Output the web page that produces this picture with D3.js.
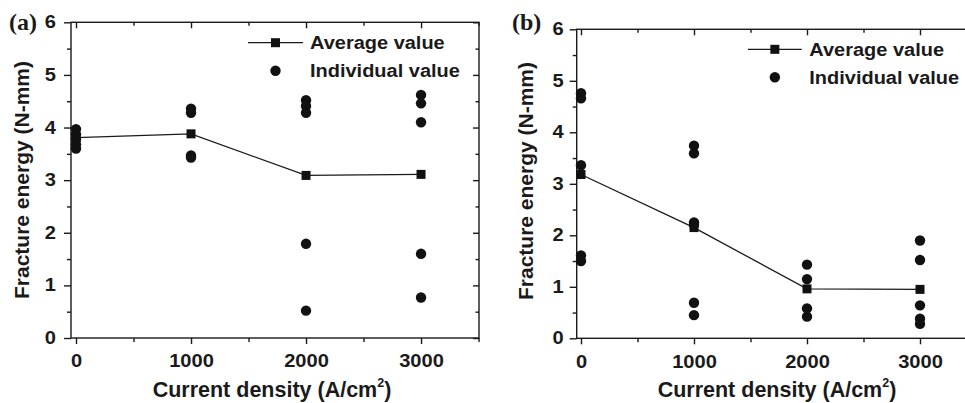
<!DOCTYPE html>
<html>
<head>
<meta charset="utf-8">
<script src="https://cdn.jsdelivr.net/npm/d3@7"></script>
<style>
  html, body { margin: 0; padding: 0; background: #fff; }
  svg { display: block; }
  text { font-family: "Liberation Sans", Arial, Helvetica, sans-serif; font-weight: bold; fill: #1a1a1a; }
</style>
</head>
<body>
<div id="chart"></div>
<script>
// ---------------- data ----------------
const currentDensity = [0, 1000, 2000, 3000];
const xTickLabels = ["0", "1000", "2000", "3000"];
const yTickLabels = ["0", "1", "2", "3", "4", "5", "6"];
const xTitle = "Current density (A/cm";
const yTitle = "Fracture energy (N-mm)";
const legendLabels = ["Average value", "Individual value"];

// panel (a)
const avgA = [3.81, 3.88, 3.09, 3.11];
const indivA0 = [3.97, 3.87, 3.78, 3.68, 3.60];
const indivA1000 = [4.36, 4.28, 3.47, 3.43];
const indivA2000 = [4.52, 4.41, 4.28, 1.79, 0.52];
const indivA3000 = [4.62, 4.46, 4.10, 1.60, 0.77];

// panel (b)
const avgB = [3.18, 2.15, 0.96, 0.95];
const indivB0 = [4.76, 4.66, 3.36, 1.61, 1.50];
const indivB1000 = [3.74, 3.59, 2.25, 2.20, 0.69, 0.45];
const indivB2000 = [1.43, 1.15, 0.58, 0.42];
const indivB3000 = [1.90, 1.52, 0.64, 0.38, 0.28];

// ---------------- drawing ----------------
const W = 965, H = 403;
const svg = d3.select("#chart").append("svg").attr("width", W).attr("height", H);
const TICK_FS = 17.5, STRETCH = 1.15;

function drawPanel(cfg) {
  const g = svg.append("g");
  const x = d3.scaleLinear().domain(cfg.xDomain).range([cfg.left, cfg.right]);
  const y = d3.scaleLinear().domain([0, 6]).range([cfg.bottom, cfg.top]);

  const majorX = currentDensity;
  const minorX = [500, 1500, 2500, 3500];
  const majorY = d3.range(0, 7, 1);
  const minorY = d3.range(0.5, 6, 1);
  const sw = 1.4;

  // bottom axis
  const xb = g.append("g").attr("transform", `translate(0,${cfg.bottom})`)
    .call(d3.axisBottom(x).tickValues(majorX).tickSize(6).tickPadding(11)
      .tickFormat((d, i) => xTickLabels[i]));
  g.append("g").attr("transform", `translate(0,${cfg.bottom})`)
    .call(d3.axisBottom(x).tickValues(minorX).tickSize(4).tickFormat(""));
  // top axis (inward ticks)
  g.append("g").attr("transform", `translate(0,${cfg.top})`)
    .call(d3.axisBottom(x).tickValues(majorX).tickSize(6).tickFormat(""));
  g.append("g").attr("transform", `translate(0,${cfg.top})`)
    .call(d3.axisBottom(x).tickValues(minorX).tickSize(3.5).tickFormat(""));
  // left axis
  const yl = g.append("g").attr("transform", `translate(${cfg.left},0)`)
    .call(d3.axisLeft(y).tickValues(majorY).tickSize(7).tickPadding(cfg.yPad)
      .tickFormat((d, i) => yTickLabels[i]));
  g.append("g").attr("transform", `translate(${cfg.left},0)`)
    .call(d3.axisLeft(y).tickValues(minorY).tickSize(4).tickFormat(""));
  // right axis (inward ticks)
  g.append("g").attr("transform", `translate(${cfg.right},0)`)
    .call(d3.axisLeft(y).tickValues(majorY).tickSize(6).tickFormat(""));
  g.append("g").attr("transform", `translate(${cfg.right},0)`)
    .call(d3.axisLeft(y).tickValues(minorY).tickSize(3.5).tickFormat(""));

  g.selectAll(".domain").remove();
  g.selectAll(".tick line").attr("stroke", "#1a1a1a").attr("stroke-width", sw);
  g.selectAll(".tick text").attr("fill", "#1a1a1a")
    .style("font-size", TICK_FS + "px")
    .style("font-family", '"Liberation Sans", Arial, sans-serif').style("font-weight", "bold");
  // horizontally widened tick labels (as in the reference)
  xb.selectAll(".tick text").attr("transform", `scale(${STRETCH},1)`);
  yl.selectAll(".tick text").each(function () {
    const t = d3.select(this);
    t.attr("x", +t.attr("x") / STRETCH).attr("transform", `scale(${STRETCH},1)`);
  });

  // frame
  g.append("rect").attr("x", cfg.left).attr("y", cfg.top)
    .attr("width", cfg.right - cfg.left).attr("height", cfg.bottom - cfg.top)
    .attr("fill", "none").attr("stroke", "#1a1a1a").attr("stroke-width", sw);

  // individual points
  const pts = [];
  cfg.indiv.forEach((arr, i) => arr.forEach(v => pts.push([currentDensity[i], v])));
  g.selectAll("circle.ind").data(pts).enter().append("circle")
    .attr("cx", d => x(d[0])).attr("cy", d => y(d[1])).attr("r", 5.2)
    .attr("fill", "#111");

  // average line
  const line = d3.line().x((d, i) => x(currentDensity[i])).y(d => y(d));
  g.append("path").datum(cfg.avg).attr("d", line)
    .attr("fill", "none").attr("stroke", "#1a1a1a").attr("stroke-width", 1.3);
  const s = 9;
  g.selectAll("rect.avg").data(cfg.avg).enter().append("rect")
    .attr("x", (d, i) => x(currentDensity[i]) - s / 2).attr("y", d => y(d) - s / 2)
    .attr("width", s).attr("height", s).attr("fill", "#111");

  // legend
  const L = cfg.legend;
  g.append("line").attr("x1", L.x1).attr("x2", L.x2).attr("y1", L.y1).attr("y2", L.y1)
    .attr("stroke", "#1a1a1a").attr("stroke-width", 1.3);
  g.append("rect").attr("x", (L.x1 + L.x2) / 2 - s / 2).attr("y", L.y1 - s / 2)
    .attr("width", s).attr("height", s).attr("fill", "#111");
  g.append("circle").attr("cx", (L.x1 + L.x2) / 2).attr("cy", L.y2).attr("r", 5.2).attr("fill", "#111");
  const LS = 1.08;
  [L.y1, L.y2].forEach((yy, i) => {
    g.append("text")
      .attr("transform", `translate(${L.tx},${yy + 6.5}) scale(${LS},1)`)
      .style("font-size", "18.5px").text(legendLabels[i]);
  });

  // axis titles
  const xt = g.append("text").attr("x", cfg.xTitleX).attr("y", 396.5)
    .attr("text-anchor", "middle").style("font-size", "21.5px");
  xt.append("tspan").text(xTitle);
  xt.append("tspan").style("font-size", "12.5px").attr("dy", -9.5).text("2");
  xt.append("tspan").attr("dy", 9.5).text(")");

  g.append("text").attr("transform", `translate(${cfg.yTitleX},${cfg.yTitleY}) rotate(-90)`)
    .attr("text-anchor", "middle").style("font-size", "21px").text(yTitle);

  // panel label
  g.append("text").attr("x", cfg.labelX).attr("y", 30)
    .style("font-family", '"Liberation Serif", "Times New Roman", serif')
    .style("font-size", "24px").text(cfg.label);
}

drawPanel({
  id: "a", label: "(a)", labelX: 9,
  left: 71, right: 479, top: 22.3, bottom: 338,
  xDomain: [-43.5, 3504], yPad: 8,
  avg: avgA, indiv: [indivA0, indivA1000, indivA2000, indivA3000],
  legend: { x1: 248, x2: 303, y1: 42.7, y2: 70.7, tx: 310 },
  xTitleX: 272, yTitleX: 28.5, yTitleY: 180
});

drawPanel({
  id: "b", label: "(b)", labelX: 512,
  left: 576.7, right: 976.5, top: 29.3, bottom: 338.3,
  xDomain: [-38, 3500], yPad: 6,
  avg: avgB, indiv: [indivB0, indivB1000, indivB2000, indivB3000],
  legend: { x1: 748, x2: 801.7, y1: 49.3, y2: 77.3, tx: 809.3 },
  xTitleX: 777, yTitleX: 533, yTitleY: 181
});
</script>
</body>
</html>
